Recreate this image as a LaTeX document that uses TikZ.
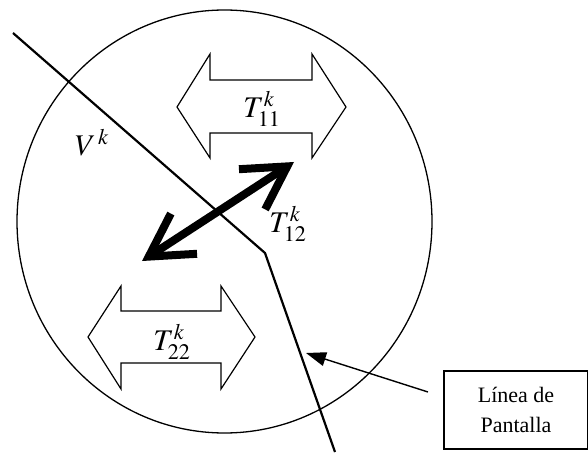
\documentclass[tikz,border=0pt]{standalone}
\usepackage{mathptmx}
\usepackage{fontspec}
\setmainfont{Liberation Serif}
\usetikzlibrary{arrows.meta}
\tikzset{
  dblarrow/.style={draw=black, line width=1.2pt, line join=miter},
  mathlabel/.style={inner sep=0pt, font=\fontsize{30}{36}\selectfont},
  screenline/.style={draw=black, line width=2.2pt, line join=miter},
  boldarrow/.style={line width=8pt, line cap=butt,
     {Straight Barb[length=42pt, width=48pt, line join=miter, line cap=butt]}-{Straight Barb[length=42pt, width=48pt, line join=miter, line cap=butt]}},
  pointer/.style={line width=1.4pt, -{Triangle[length=20pt, width=14pt]}},
  labelbox/.style={draw=black, line width=1.1pt, minimum width=144pt, minimum height=78pt, align=center, inner sep=0pt, font=\fontsize{22}{30}\selectfont}
}
\begin{document}
\begin{tikzpicture}[x=1pt, y=-1pt]
\useasboundingbox (0,0) rectangle (588,454);
% region circle
\draw[line width=1.3pt] (224.5,221.5) ellipse [x radius=207.5, y radius=211.5];
% hollow double arrows
\draw[dblarrow] (177,107) -- (210,54) -- (210,80) -- (312,80) -- (312,54) -- (346,107) -- (312,158) -- (312,133) -- (210,133) -- (210,158) -- cycle;
\draw[dblarrow] (88,337) -- (121,286) -- (121,311) -- (221,311) -- (221,286) -- (255,337) -- (221,389) -- (221,363) -- (121,363) -- (121,389) -- cycle;
\node[mathlabel] (t11) at (262,109) {$T^k_{11}$};
\node[mathlabel] (t22) at (172,342) {$T^k_{22}$};
\node[mathlabel] (t12) at (288,224) {$T^k_{12}$};
\node[mathlabel] (vk) at (92,143) {$V^{\,k}$};
% screen line
\coordinate (s1) at (13,33);
\coordinate (s2) at (265,253);
\coordinate (s3) at (335,452);
\draw[screenline] (s1) -- (s2) -- (s3);
% bold double arrow
\coordinate (b1) at (142,261);
\coordinate (b2) at (294,162);
\draw[boldarrow] (b1) -- (b2);
% label box and pointer
\node[labelbox] (box) at (516,410) {Línea de\\Pantalla};
\coordinate (ptail) at (428,392);
\coordinate (phead) at (306,353);
\draw[pointer] (ptail) -- (phead);
\end{tikzpicture}
\end{document}
